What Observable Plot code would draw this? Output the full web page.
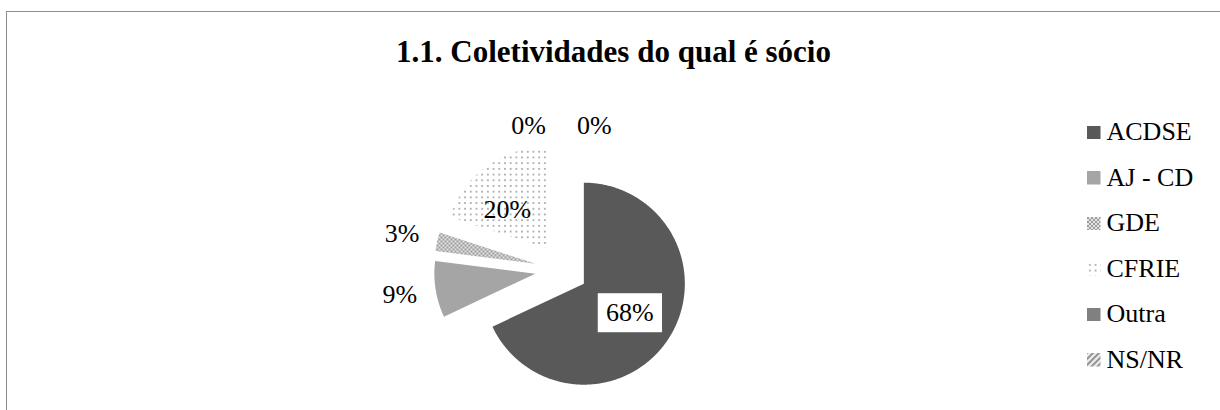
<!DOCTYPE html>
<html><head><meta charset="utf-8">
<script src="https://cdn.jsdelivr.net/npm/d3@7"></script>
<script src="https://cdn.jsdelivr.net/npm/@observablehq/plot@0.6"></script>
<style>
html,body{margin:0;padding:0;background:#fff;}
#chart{position:relative;width:1220px;height:410px;overflow:hidden;font-family:"Liberation Serif","Times New Roman",serif;color:#000;}
#frame{position:absolute;left:6px;top:11px;width:1400px;height:600px;border-left:1.4px solid #8c8c8c;border-top:1.4px solid #8c8c8c;}
#title{position:absolute;left:7px;right:0;top:36px;text-align:center;font-weight:bold;font-size:31px;line-height:31px;white-space:nowrap;}
#plot{position:absolute;left:0;top:80px;}
#legend{position:absolute;left:1087px;top:109.5px;}
.row{display:flex;align-items:center;height:45.5px;}
.row svg{width:13.5px;height:13.5px;margin-right:6px;flex:none;}
.row span{font-size:26px;line-height:26px;white-space:nowrap;}
</style></head>
<body>
<svg width="0" height="0" style="position:absolute">
<defs>
<pattern id="pGDE" width="4" height="4" patternUnits="userSpaceOnUse">
<rect width="4" height="4" fill="#e4e4e4"/>
<rect width="2" height="2" fill="#9c9c9c"/>
<rect x="2" y="2" width="2" height="2" fill="#9c9c9c"/>
</pattern>
<pattern id="pCFRIE" width="5.7" height="5.7" patternUnits="userSpaceOnUse">
<rect width="5.7" height="5.7" fill="#ffffff"/>
<circle cx="2.85" cy="2.85" r="0.95" fill="#9a9a9a"/>
</pattern>
<pattern id="pNSNR" width="6" height="6" patternUnits="userSpaceOnUse">
<rect width="6" height="6" fill="#e8e8e8"/>
<path d="M-1,1 l2,-2 M0,6 l6,-6 M5,7 l2,-2" stroke="#8f8f8f" stroke-width="1.8"/>
</pattern>
</defs>
</svg>
<div id="chart">
<div id="frame"></div>
<div id="title">1.1. Coletividades do qual é sócio</div>
<div id="plot"></div>
<div id="legend"></div>
</div>
<script>
const categories = ["ACDSE", "AJ - CD", "GDE", "CFRIE", "Outra", "NS/NR"];
const values = [68, 9, 3, 20, 0, 0];
const fills = ["#595959", "#a5a5a5", "url(#pGDE)", "url(#pCFRIE)", "#808080", "url(#pNSNR)"];

const W = 1220, H = 330, R = 101, CX = 561, CY = 189, EXPLODE = 0.262;
const total = d3.sum(values);
const rad = a => a * Math.PI / 180;
const ux = a => Math.sin(rad(a)), uy = a => -Math.cos(rad(a));
let acc = 0;
const slices = categories.map((name, i) => {
  const a0 = acc / total * 360; acc += values[i]; const a1 = acc / total * 360;
  const mid = (a0 + a1) / 2;
  return {name, value: values[i], a0, a1, mid, ox: EXPLODE * ux(mid), oy: EXPLODE * uy(mid)};
});
const polyPts = [];
slices.filter(s => s.value > 0).forEach(s => {
  polyPts.push({name: s.name, x: s.ox, y: s.oy});
  const n = Math.max(2, Math.ceil((s.a1 - s.a0) * 2));
  for (let k = 0; k <= n; k++) {
    const a = s.a0 + (s.a1 - s.a0) * k / n;
    polyPts.push({name: s.name, x: s.ox + ux(a), y: s.oy + uy(a)});
  }
});
const zeros = slices.filter(s => s.value === 0);
const maxVal = d3.max(values);
const labelPts = slices.map(s => {
  let x, y;
  if (s.value >= 10) { const m = s.value === maxVal ? s.mid : s.mid - 9; x = s.ox + 0.54 * ux(m); y = s.oy + 0.54 * uy(m); }
  else if (s.value > 0) { const k = 1.16 + 0.2 * Math.abs(ux(s.mid)); x = s.ox + k * ux(s.mid); y = s.oy + k * uy(s.mid); }
  else { const j = zeros.indexOf(s); x = s.ox + 1.16 * ux(s.mid) + (j - (zeros.length - 1) / 2) * 0.65; y = s.oy + 1.16 * uy(s.mid); }
  return {name: s.name, label: Math.round(s.value / total * 100) + "%", x, y, boxed: s.value === maxVal};
});

const plot = Plot.plot({
  width: W, height: H, margin: 0,
  x: {domain: [-CX / R, (W - CX) / R], range: [0, W], axis: null},
  y: {domain: [-CY / R, (H - CY) / R], range: [0, H], axis: null},
  color: {type: "ordinal", domain: categories, range: fills},
  style: {fontFamily: "'Liberation Serif', 'Times New Roman', serif", background: "transparent", overflow: "visible"},
  marks: [
    Plot.line(polyPts, {x: "x", y: "y", z: "name", fill: "name", stroke: "none", curve: "linear-closed"}),
    Plot.text(labelPts, {x: "x", y: "y", text: "label", fontSize: 26, fill: "black"})
  ]
});
document.getElementById("plot").appendChild(plot);

const ns = "http://www.w3.org/2000/svg";
const boxedLabels = new Set(labelPts.filter(d => d.boxed).map(d => d.label));
plot.querySelectorAll("text").forEach(t => {
  if (!boxedLabels.has(t.textContent)) return;
  const b = t.getBBox();
  const r = document.createElementNS(ns, "rect");
  r.setAttribute("x", b.x - 8.3); r.setAttribute("y", b.y - 5);
  r.setAttribute("width", b.width + 16.6); r.setAttribute("height", b.height + 10);
  r.setAttribute("fill", "white");
  if (t.getAttribute("transform")) r.setAttribute("transform", t.getAttribute("transform"));
  t.parentNode.insertBefore(r, t);
});

const legend = document.getElementById("legend");
categories.forEach((c, i) => {
  const row = document.createElement("div"); row.className = "row";
  const sw = document.createElementNS(ns, "svg");
  sw.setAttribute("viewBox", "0 0 13.5 13.5");
  const rc = document.createElementNS(ns, "rect");
  rc.setAttribute("width", 13.5); rc.setAttribute("height", 13.5); rc.setAttribute("fill", fills[i]);
  sw.appendChild(rc);
  const sp = document.createElement("span"); sp.textContent = c;
  row.appendChild(sw); row.appendChild(sp);
  legend.appendChild(row);
});
</script>
</body></html>
